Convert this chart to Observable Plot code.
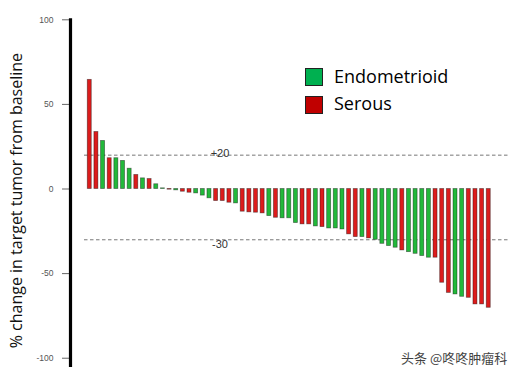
<!DOCTYPE html>
<html>
<head>
<meta charset="utf-8">
<script src="https://cdn.jsdelivr.net/npm/d3@7"></script>
<script src="https://cdn.jsdelivr.net/npm/@observablehq/plot@0.6"></script>
<style>
  body { margin: 0; background: #fff; }
  #wrap { position: relative; width: 520px; height: 378px; overflow: hidden; background: #fff; }
  #wrap svg { position: absolute; left: 0; top: 0; }
  .leg { position: absolute; left: 305px; font-family: "Open Sans", sans-serif; font-size: 18px; line-height: 18px; color: #000; white-space: nowrap; }
  .leg .sw { position: absolute; left: 0; width: 16px; height: 16px; border: 1px solid #222; }
  .leg .lb { position: absolute; left: 29px; }
  #caption { position: absolute; left: 401px; top: 348px; font-family: "Noto Sans CJK SC", sans-serif; font-size: 13px; color: #444; white-space: nowrap; }
</style>
</head>
<body>
<div id="wrap"></div>
<script>
// ---- data ----
const patients = d3.range(1, 62);
const changes = [
  64.5, 33.7, 28.4, 18.2, 18.2, 16.6, 12.0, 8.3, 6.3, 5.9, 2.8,
  0.4, -0.4, -0.8, -1.6, -2.2, -2.6, -3.9, -5.5,
  -7.1, -7.1, -8.1, -8.5,
  -13.4, -13.8, -14.0, -14.4, -16.0,
  -17.0, -17.3, -17.3, -20.1,
  -20.9, -20.9, -22.1, -22.5,
  -23.3, -23.3, -23.9,
  -26.8, -28.4, -28.4, -29.2,
  -30.0, -32.4, -33.7, -34.7,
  -36.3, -37.3, -38.3, -39.6, -40.6,
  -40.6, -55.4, -61.4, -62.3, -63.7,
  -64.3, -68.2, -68.2, -70.2
];
const typeCodes = ("SSESEEESESE" + "ESESSEEE" + "SSSE" + "SSSSE" + "SEEE" + "SSES" + "EEE" + "SSES" + "EEEE" + "SEEEE" + "SSSEE" + "SSSS").split("");
const typeNames = ["Endometrioid", "Serous"];
const barColors = ["#22b83a", "#dc1c1c"];
const legendColors = ["#00b050", "#c00000"];
const yTicks = [-100, -50, 0, 50, 100];
const thresholds = [20, -30];
const thresholdLabels = ["+20", "-30"];
const yLabel = "% change in target tumor from baseline";
const caption = "头条 @咚咚肿瘤科";

const data = patients.map((p, i) => ({
  patient: p,
  change: changes[i],
  type: typeCodes[i] === "E" ? typeNames[0] : typeNames[1]
}));

const chart = Plot.plot({
  width: 520,
  height: 378,
  marginLeft: 70,
  marginRight: 10,
  marginTop: 19.3,
  marginBottom: 13,
  style: { fontFamily: "Liberation Sans, Arial, sans-serif", background: "transparent" },
  x: { type: "band", domain: patients, range: [84.6, 492.9], padding: 0.4, axis: null },
  y: { domain: [-104.3, 100] },
  color: { domain: typeNames, range: barColors },
  marks: [
    Plot.axisY({
      ticks: yTicks, tickSize: 8, tickPadding: 9, fontSize: 8.5,
      stroke: "#666", fill: "#555", label: null, tickFormat: d => String(d)
    }),
    Plot.frame({ anchor: "left", stroke: "#000", strokeWidth: 3.2 }),
    Plot.ruleY(thresholds, { stroke: "#777", strokeWidth: 1, strokeDasharray: "3.5,2.5", insetLeft: 14 }),
    Plot.barY(data, {
      x: "patient", y: "change", fill: "type",
      stroke: "#000", strokeOpacity: 0.45, strokeWidth: 0.8
    }),
    Plot.text([thresholds[0]], {
      y: d => d, text: [thresholdLabels[0]], frameAnchor: "left", dx: 149.5, dy: 2.2,
      lineAnchor: "bottom", textAnchor: "middle", fontSize: 11, fill: "#333"
    }),
    Plot.text([thresholds[1]], {
      y: d => d, text: [thresholdLabels[1]], frameAnchor: "left", dx: 149.5, dy: 8.2,
      lineAnchor: "bottom", textAnchor: "middle", fontSize: 11, fill: "#333"
    }),
    Plot.text([yLabel], {
      text: d => d, frameAnchor: "left", dx: -54, dy: 8, rotate: -90,
      textAnchor: "middle", lineAnchor: "middle",
      fontSize: 16, fontFamily: "Open Sans, sans-serif", fill: "#111"
    })
  ]
});

const wrap = document.getElementById("wrap");
wrap.appendChild(chart);

// legend
const legTops = [67.3, 94];
typeNames.forEach((name, i) => {
  const el = document.createElement("div");
  el.className = "leg";
  el.style.top = legTops[i] + "px";
  const sw = document.createElement("div");
  sw.className = "sw";
  sw.style.background = legendColors[i];
  sw.style.top = (i === 0 ? 0.7 : 2) + "px";
  const lb = document.createElement("div");
  lb.className = "lb";
  lb.textContent = name;
  el.appendChild(sw);
  el.appendChild(lb);
  wrap.appendChild(el);
});

const cap = document.createElement("div");
cap.id = "caption";
cap.textContent = caption;
wrap.appendChild(cap);
</script>
</body>
</html>
